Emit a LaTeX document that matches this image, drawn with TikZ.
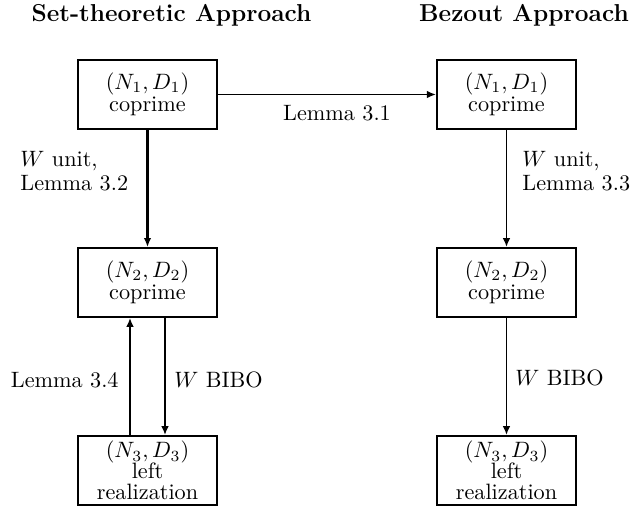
\documentclass[tikz,border=0pt]{standalone}
\usetikzlibrary{arrows.meta}
\begin{document}
\begin{tikzpicture}[x=0.45pt,y=-0.45pt,
  box/.style={draw,line width=0.95pt,minimum width=62.6pt,minimum height=31pt,inner sep=0pt,align=center},
  arr/.style={line width=0.7pt,-{Latex[length=4pt,width=3.4pt]}},
  lbl/.style={inner sep=0pt},
  ttl/.style={inner sep=0pt,font=\fontsize{11}{13}\selectfont\bfseries}]
\useasboundingbox (0,0) rectangle (632,508);
\node[ttl] (t1) at (171.5,15) {Set-theoretic Approach};
\node[ttl] (t2) at (524,15) {Bezout Approach};
\node[box] (L1) at (147.5,94.5) {$(N_1,D_1)$\\[-2pt]coprime};
\node[box] (L2) at (147.5,282.5) {$(N_2,D_2)$\\[-2pt]coprime};
\node[box] (L3) at (147.5,470.5) {$(N_3,D_3)$\\[-2.6pt]left\\[-2.6pt]realization};
\node[box] (R1) at (506.5,94.5) {$(N_1,D_1)$\\[-2pt]coprime};
\node[box] (R2) at (506.5,282.5) {$(N_2,D_2)$\\[-2pt]coprime};
\node[box] (R3) at (506.5,470.5) {$(N_3,D_3)$\\[-2.6pt]left\\[-2.6pt]realization};
\draw[arr] (L1.east) -- (R1.west);
\draw[arr,line width=1.1pt] (L1) -- (L2);
\draw[arr] (L3.north -| 130,0) -- (L2.south -| 130,0);
\draw[arr] (L2.south -| 165,0) -- (L3.north -| 165,0);
\draw[arr] (R1) -- (R2);
\draw[arr] (R2) -- (R3);
\node[lbl] (l31) at (337,113) {Lemma 3.1};
\node[lbl,anchor=west,align=left] (l32) at (20,171) {$W$ unit,\\[-1pt]Lemma 3.2};
\node[lbl,anchor=west,align=left] (l33) at (522,171) {$W$ unit,\\[-1pt]Lemma 3.3};
\node[lbl,anchor=east] (l34) at (119,380) {Lemma 3.4};
\node[lbl,anchor=west] (b1) at (174,380) {$W$ BIBO};
\node[lbl,anchor=west] (b2) at (515,378) {$W$ BIBO};
\end{tikzpicture}
\end{document}
